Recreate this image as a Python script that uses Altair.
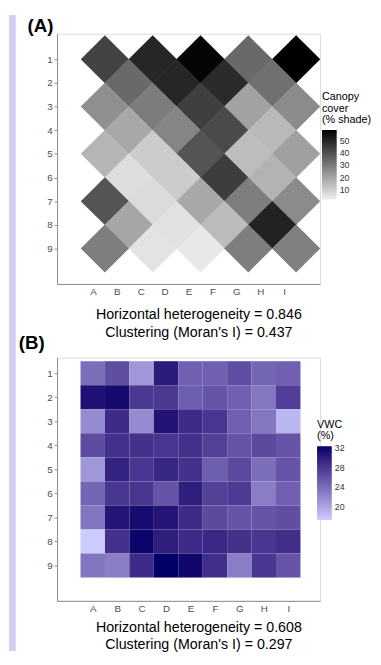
import altair as alt
import pandas as pd

FONT = "Liberation Sans"
LAVENDER = "#d2d2f0"
AXIS_GREY = "#8c8c8c"
LABEL_GREY = "#4d4d4d"

cols = ["A", "B", "C", "D", "E", "F", "G", "H", "I"]
rows = [1, 2, 3, 4, 5, 6, 7, 8, 9]

# ---- Panel A: canopy cover, diamond cells ----
diamond_row = [1, 1, 1, 1, 1,
               2, 2, 2, 2,
               3, 3, 3, 3, 3,
               4, 4, 4, 4,
               5, 5, 5, 5, 5,
               6, 6, 6, 6,
               7, 7, 7, 7, 7,
               8, 8, 8, 8,
               9, 9, 9, 9, 9]
diamond_col = ["A", "C", "E", "G", "I",
               "B", "D", "F", "H",
               "A", "C", "E", "G", "I",
               "B", "D", "F", "H",
               "A", "C", "E", "G", "I",
               "B", "D", "F", "H",
               "A", "C", "E", "G", "I",
               "B", "D", "F", "H",
               "A", "C", "E", "G", "I"]
canopy = [43.0, 50.0, 58.0, 34.0, 59.0,
          34.0, 50.0, 49.0, 32.5,
          25.0, 29.5, 44.0, 20.5, 26.0,
          19.0, 27.5, 41.5, 15.0,
          16.0, 10.5, 39.0, 14.0, 21.0,
          6.5, 10.5, 44.5, 16.5,
          39.0, 7.0, 19.0, 29.0, 26.0,
          19.5, 5.5, 14.5, 51.0,
          29.0, 5.0, 4.0, 29.0, 28.5]
canopy_title = ["Canopy", "cover", "(% shade)"]
canopy_ticks = [10, 20, 30, 40, 50]
caption_a = ["Horizontal heterogeneity = 0.846", "Clustering (Moran's I) = 0.437"]

# ---- Panel B: volumetric water content, square cells ----
vwc_r1 = [23.9, 26.3, 21.0, 30.3, 24.9, 24.9, 26.3, 24.5, 24.9]
vwc_r2 = [31.1, 31.5, 27.9, 27.9, 25.1, 25.8, 24.9, 23.3, 27.5]
vwc_r3 = [21.8, 29.0, 21.8, 30.9, 29.0, 28.1, 24.9, 23.3, 18.9]
vwc_r4 = [26.4, 28.5, 28.5, 28.1, 28.5, 27.3, 25.8, 26.6, 25.8]
vwc_r5 = [21.0, 29.7, 28.1, 29.4, 28.5, 25.1, 26.6, 23.9, 25.8]
vwc_r6 = [24.5, 28.1, 28.1, 25.8, 30.0, 27.3, 27.8, 22.8, 24.9]
vwc_r7 = [23.4, 30.7, 31.4, 30.7, 29.0, 26.6, 25.8, 25.8, 26.3]
vwc_r8 = [17.4, 28.5, 32.0, 30.0, 29.0, 29.2, 28.5, 28.1, 28.8]
vwc_r9 = [23.4, 22.8, 29.0, 32.4, 31.8, 28.8, 22.8, 28.1, 25.8]
vwc_title = ["VWC", "(%)"]
vwc_ticks = [20, 24, 28, 32]
caption_b = ["Horizontal heterogeneity = 0.608", "Clustering (Moran's I) = 0.297"]

vwc_rows = [vwc_r1, vwc_r2, vwc_r3, vwc_r4, vwc_r5, vwc_r6, vwc_r7, vwc_r8, vwc_r9]

dfA = pd.DataFrame({"row": diamond_row, "col": diamond_col, "canopy": canopy})
dfA["ci"] = [cols.index(c) + 1 for c in diamond_col]

recs = []
for r, vals in zip(rows, vwc_rows):
    for ci, (c, v) in enumerate(zip(cols, vals), start=1):
        recs.append({"row": r, "col": c, "ci": ci, "vwc": v})
dfB = pd.DataFrame(recs)

letters_js = "[" + ",".join("'%s'" % c for c in cols) + "]"
label_expr = letters_js + "[datum.value - 1]"


def x_axis(caption, title_y, line_h):
    return alt.Axis(values=rows, labelExpr=label_expr, ticks=False, labelPadding=3,
                    labelFontSize=10, labelColor=LABEL_GREY, labelFont=FONT,
                    domainColor=AXIS_GREY, grid=False,
                    title=caption, titleX=144, titleY=title_y, titleAlign="center",
                    titleBaseline="alphabetic", titleFontSize=14.5, titleFontWeight="normal",
                    titleColor="#000000", titleFont=FONT, titleLineHeight=line_h)


def y_axis():
    return alt.Axis(values=rows, format="d", title=None, tickSize=3, tickColor=AXIS_GREY,
                    domainColor=AXIS_GREY, labelPadding=2, labelFontSize=10,
                    labelColor=LABEL_GREY, labelFont=FONT, grid=False)


def legend(title, ticks, lx, ly, glen):
    return alt.Legend(title=title, orient="none", legendX=lx, legendY=ly, direction="vertical",
                      gradientLength=glen, gradientThickness=15, values=ticks,
                      titleFontSize=11, titleFontWeight="normal", titleColor="#000000",
                      titleFont=FONT, titleLineHeight=11.5, titlePadding=5,
                      labelFontSize=9, labelColor="#333333", labelFont=FONT,
                      labelOffset=3, padding=0, gradientStrokeWidth=0)


def panel_label(text, dx, dy):
    return alt.Chart(pd.DataFrame({"k": [0]})).mark_text(
        text=text, align="left", baseline="top", fontSize=19, fontWeight="bold",
        font=FONT, color="#000000"
    ).encode(x=alt.value(dx), y=alt.value(dy))


scaleA = alt.Scale(domain=[2, 59], range=["#f0f0f0", "#000000"], interpolate="rgb")

diamonds = alt.Chart(dfA).transform_calculate(
    cx="datum.ci + 0.5"
).mark_point(
    shape="M0,-1L1.01,0L0,1L-1.01,0Z", filled=True, size=2375, opacity=1, strokeWidth=0
).encode(
    x=alt.X("cx:Q", scale=alt.Scale(domain=[-0.5, 10.5], nice=False, zero=False),
            axis=x_axis(caption_a, 35, 19)),
    y=alt.Y("row:Q", scale=alt.Scale(domain=[-0.08, 10.5], reverse=True, nice=False, zero=False),
            axis=y_axis()),
    color=alt.Color("canopy:Q", scale=scaleA,
                    legend=legend(canopy_title, canopy_ticks, 270, 59, 71)),
)

# page background strip on the left (the lavender margin of the screenshot)
strip_df = pd.DataFrame({"k": [0]})
left_strip = alt.Chart(strip_df).mark_rect(color=LAVENDER).encode(
    x=alt.value(-49), x2=alt.value(-42), y=alt.value(-19), y2=alt.value(629))

chartA = alt.layer(left_strip, diamonds, panel_label("(A)", -30, -17)).properties(
    width=268, height=255)

scaleB = alt.Scale(domain=[17.4, 32.4], range=["#ccccff", "#000066"], interpolate="lab")

cells = alt.Chart(dfB).transform_calculate(
    x1="datum.ci - 0.5", x2="datum.ci + 0.5", y1="datum.row - 0.5", y2="datum.row + 0.5"
).mark_rect().encode(
    x=alt.X("x1:Q", scale=alt.Scale(domain=[-0.46, 10.3], nice=False, zero=False),
            axis=x_axis(caption_b, 31, 17.5)),
    x2="x2:Q",
    y=alt.Y("y1:Q", scale=alt.Scale(domain=[0.347, 10.47], reverse=True, nice=False, zero=False),
            axis=y_axis()),
    y2="y2:Q",
    color=alt.Color("vwc:Q", scale=scaleB, legend=legend(vwc_title, vwc_ticks, 265, 63, 75)),
)

chartB = alt.layer(cells, panel_label("(B)", -39, -24)).properties(width=268, height=248)

chart = alt.vconcat(chartA, chartB, spacing=75, bounds="flush", padding=0,
                    background="white").resolve_scale(
    color="independent", x="independent", y="independent"
).resolve_legend(color="independent").configure_view(stroke=None).configure(font=FONT)

chart.save("out.html", embed_options={"renderer": "svg", "actions": False})
